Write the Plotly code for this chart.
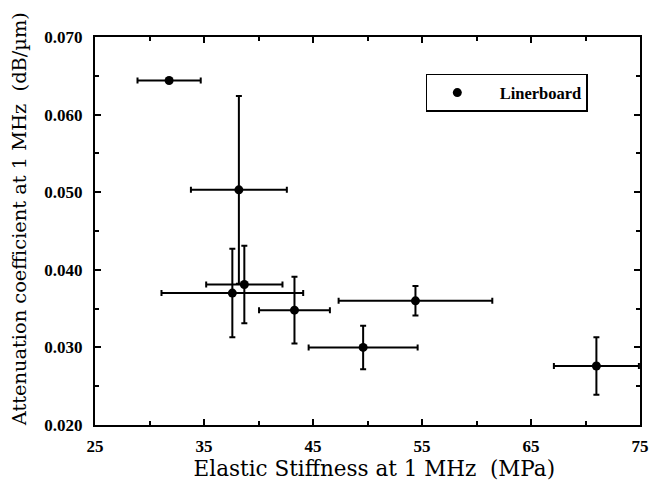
import plotly.graph_objects as go

stiffness = [31.8, 38.2, 37.6, 38.7, 43.3, 49.6, 54.4, 71.0]
stiffness_err = [2.9, 4.4, 6.5, 3.5, 3.25, 5.0, 7.05, 3.9]
attenuation = [0.0644, 0.0503, 0.0370, 0.0381, 0.0348, 0.0300, 0.0360, 0.0276]
attenuation_err = [0.0, 0.0121, 0.0057, 0.0050, 0.0043, 0.0028, 0.0019, 0.0037]
series_name = "Linerboard"
x_ticks = [25, 35, 45, 55, 65, 75]
y_ticks = [0.020, 0.030, 0.040, 0.050, 0.060, 0.070]

font = "Liberation Serif"
title_font = "DejaVu Serif"
nb = "&nbsp;"

fig = go.Figure()
fig.add_trace(go.Scatter(
    x=stiffness, y=attenuation, mode="markers",
    name="\u00a0" * 3 + "<b>" + series_name + "</b>",
    marker=dict(color="black", size=9),
    error_x=dict(type="data", array=stiffness_err, color="black", thickness=2, width=3),
    error_y=dict(type="data", array=attenuation_err, color="black", thickness=2, width=3),
))

axis_common = dict(
    showline=True, linecolor="black", linewidth=2, mirror="ticks",
    ticks="inside", ticklen=6, tickwidth=1.5, tickcolor="black",
    showgrid=False, zeroline=False, automargin=False,
    tickfont=dict(family=font, size=17, color="black"),
)

fig.update_xaxes(
    range=[25, 75], tickvals=x_ticks, ticktext=[f"<b>{v}</b>" for v in x_ticks],
    ticklabelstandoff=5, ticklabeloverflow="allow",
    minor=dict(dtick=5, tick0=25, ticks="inside", ticklen=4, tickcolor="black"),
    title=dict(text=nb * 2 + "Elastic Stiffness at 1 MHz  (MPa)", font=dict(family=title_font, size=21.5, color="black"), standoff=4),
    **axis_common,
)
fig.update_yaxes(
    range=[0.020, 0.070], tickvals=y_ticks, ticktext=[f"<b>{v:.3f}</b>" for v in y_ticks],
    ticklabelstandoff=7,
    minor=dict(dtick=0.005, tick0=0.020, ticks="inside", ticklen=4, tickcolor="black"),
    title=dict(text=nb * 4 + "Attenuation coefficient at 1 MHz  (dB/µm)", font=dict(family=title_font, size=19.4, color="black"), standoff=13),
    **axis_common,
)

fig.update_layout(
    width=651, height=483,
    margin=dict(l=95, r=11, t=37, b=58),
    paper_bgcolor="white", plot_bgcolor="white",
    showlegend=True,
    legend=dict(
        x=0.607, y=0.905, xanchor="left", yanchor="top",
        bordercolor="black", borderwidth=1.5, bgcolor="white",
        font=dict(family=font, size=16.5, color="black"),
        itemwidth=50,
    ),
)

# Remove the default page margin so the 651x483 figure fills the window exactly.
fig.write_html("out.html", config={"displayModeBar": False},
               post_script="document.body.style.margin='0px';")
